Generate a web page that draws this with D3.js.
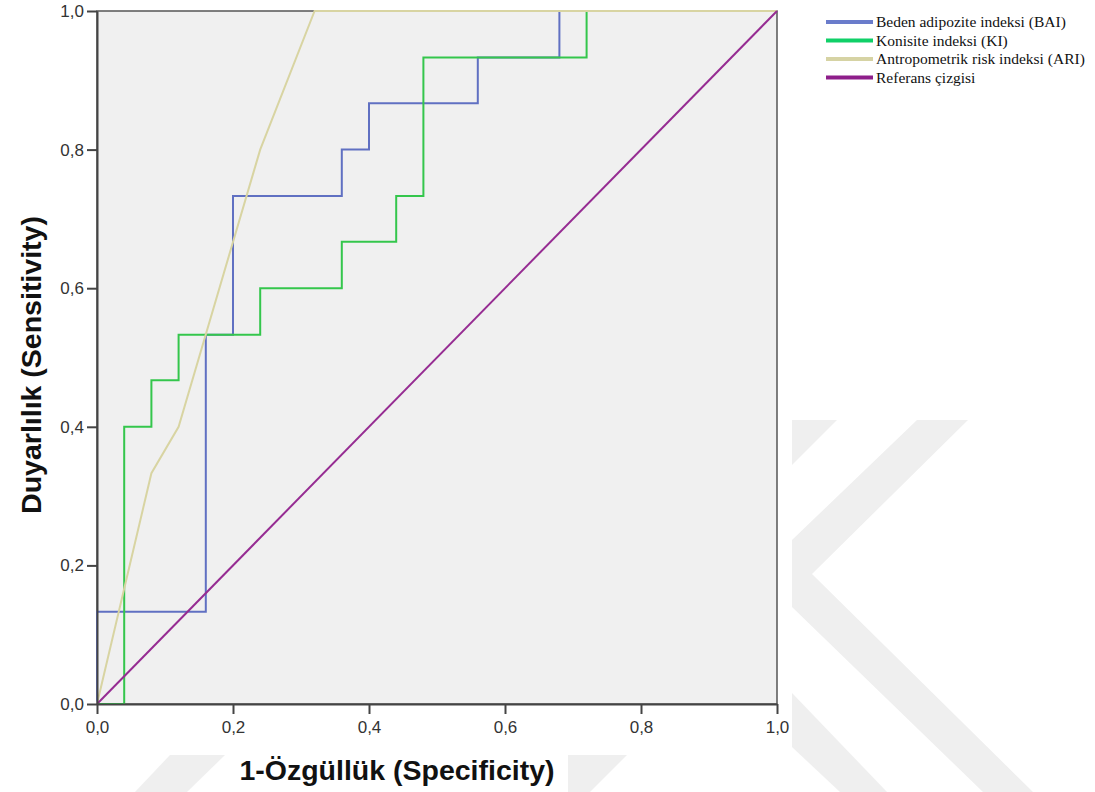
<!DOCTYPE html>
<html>
<head>
<meta charset="utf-8">
<script src="https://cdn.jsdelivr.net/npm/d3@7"></script>
<style>
body { margin:0; background:#fff; }
svg { display:block; }
</style>
</head>
<body>
<svg id="graphique" width="1095" height="792"></svg>
<script>
// courbes ROC (1-ozgulluk, duyarlilik)
var bai_x = [0, 0, 0.16, 0.16, 0.20, 0.20, 0.36, 0.36, 0.40, 0.40, 0.56, 0.56, 0.68, 0.68, 1];
var bai_y = [0, 0.133, 0.133, 0.533, 0.533, 0.733, 0.733, 0.80, 0.80, 0.867, 0.867, 0.933, 0.933, 1, 1];

var ki_x = [0, 0.04, 0.04, 0.08, 0.08, 0.12, 0.12, 0.24, 0.24, 0.36, 0.36, 0.44, 0.44, 0.48, 0.48, 0.72, 0.72, 1];
var ki_y = [0, 0, 0.40, 0.40, 0.467, 0.467, 0.533, 0.533, 0.60, 0.60, 0.667, 0.667, 0.733, 0.733, 0.933, 0.933, 1, 1];

var ari_x = [0, 0.08, 0.12, 0.24, 0.32, 1];
var ari_y = [0, 0.333, 0.40, 0.80, 1, 1];

var ref_x = [0, 1];
var ref_y = [0, 1];

var series_names = ["Beden adipozite indeksi (BAI)", "Konisite indeksi (KI)", "Antropometrik risk indeksi (ARI)", "Referans çizgisi"];
var series_colors = ["#6070c2", "#34c64c", "#d8d4a2", "#962c92"];
var legend_colors = ["#6a7ccb", "#10d068", "#d6d3a4", "#8e1e8a"];

var tick_values = [0, 0.2, 0.4, 0.6, 0.8, 1.0];

var graphique = d3.select("#graphique");
var MARGINS = { left: 97, right: 777, top: 11, bottom: 704 };

var xScale = d3.scaleLinear().domain([0, 1]).range([MARGINS.left, MARGINS.right]);
var yScale = d3.scaleLinear().domain([0, 1]).range([MARGINS.bottom, MARGINS.top]);

function virgule(d){
	return d3.format(".1f")(d).replace(".", ",");
}

// filigrane (decor)
var filigrane = graphique.append("g").attr("fill", "#efefef");
[
	[[792,420],[837,420],[792,465]],
	[[917,420],[968,420],[812,574],[1033,792],[983,792],[792,607],[792,540]],
	[[792,693],[887,792],[840,792],[792,747]],
	[[170,755],[225,755],[187,792],[135,792]],
	[[568,755],[627,755],[590,792],[568,792]]
].forEach(function(p){
	filigrane.append("polygon").attr("points", p.join(" "));
});

// fond du graphique
graphique.append("rect")
	.attr("x", xScale(0)).attr("y", yScale(1))
	.attr("width", xScale(1) - xScale(0))
	.attr("height", yScale(0) - yScale(1))
	.attr("fill", "#f0f0f0")
	.attr("stroke", "#555")
	.attr("stroke-width", 1.5);

// courbes
var line = d3.line()
	.x(function(d){ return xScale(d[0]); })
	.y(function(d){ return yScale(d[1]); });

var courbes = [
	[bai_x, bai_y],
	[ki_x, ki_y],
	[ari_x, ari_y],
	[ref_x, ref_y]
];

courbes.forEach(function(c, i){
	var tableau = c[0].map(function(x, j){ return [x, c[1][j]]; });
	graphique.append("path")
		.attr("d", line(tableau))
		.attr("stroke", series_colors[i])
		.attr("stroke-width", 2)
		.attr("fill", "none");
});

// axes
var xAxis = d3.axisBottom(xScale).tickValues(tick_values).tickFormat(virgule).tickSize(10).tickSizeOuter(0).tickPadding(7);
var yAxis = d3.axisLeft(yScale).tickValues(tick_values).tickFormat(virgule).tickSize(10).tickSizeOuter(0).tickPadding(3);

var gx = graphique.append("g")
	.attr("transform", "translate(0," + MARGINS.bottom + ")")
	.call(xAxis);
var gy = graphique.append("g")
	.attr("transform", "translate(" + MARGINS.left + ",0)")
	.call(yAxis);

[gx, gy].forEach(function(g){
	g.select(".domain").attr("stroke", "#444").attr("stroke-width", 2);
	g.selectAll(".tick line").attr("stroke", "#444").attr("stroke-width", 2);
	g.selectAll(".tick text")
		.attr("font-family", "Liberation Sans, Arial, sans-serif")
		.attr("font-size", 17)
		.attr("fill", "#333");
});

// titres des axes
graphique.append("text")
	.attr("x", 397).attr("y", 780)
	.attr("text-anchor", "middle")
	.attr("font-family", "Liberation Sans, Arial, sans-serif")
	.attr("font-weight", "bold")
	.attr("font-size", 28.5)
	.attr("fill", "#111")
	.text("1-Özgüllük (Specificity)");

graphique.append("text")
	.attr("transform", "translate(41,365) rotate(-90)")
	.attr("text-anchor", "middle")
	.attr("font-family", "Liberation Sans, Arial, sans-serif")
	.attr("font-weight", "bold")
	.attr("font-size", 28.5)
	.attr("fill", "#111")
	.text("Duyarlılık (Sensitivity)");

// legende
var legende = graphique.append("g");
series_names.forEach(function(nom, i){
	var y = 22 + i * 18.5;
	legende.append("line")
		.attr("x1", 826).attr("x2", 873)
		.attr("y1", y).attr("y2", y)
		.attr("stroke", legend_colors[i])
		.attr("stroke-width", 4);
	legende.append("text")
		.attr("x", 876).attr("y", y + 5)
		.attr("font-family", "Liberation Serif, Times New Roman, serif")
		.attr("font-size", 15.5)
		.attr("fill", "#111")
		.text(nom);
});
</script>
</body>
</html>
